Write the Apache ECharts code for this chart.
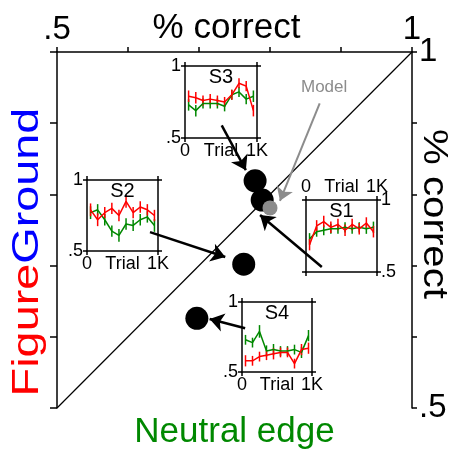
<!DOCTYPE html>
<html><head><meta charset="utf-8">
<script src="https://cdn.jsdelivr.net/npm/echarts@6/dist/echarts.min.js"></script>
<style>html,body{margin:0;padding:0;background:#fff}#c{width:450px;height:449px}</style>
</head><body><div id="c"></div>
<script>
// ---- data ----
const mainTicks = [0.5, 0.6, 0.7, 0.8, 0.9, 1.0];
const subjects = ['S1', 'S2', 'S3', 'S4'];
const neutralEdge = [0.789, 0.763, 0.779, 0.697];     // x
const figureGround = [0.792, 0.702, 0.819, 0.626];    // y
const modelPoint = [0.800, 0.781];
const arrowStart = [[0.873, 0.698], [0.631, 0.747], [0.732, 0.897], [0.765, 0.612]];
const arrowEnd   = [[0.786, 0.771], [0.737, 0.712], [0.766, 0.834], [0.715, 0.625]];
const modelArrowStart = [0.870, 0.928];
const modelArrowEnd = [0.814, 0.791];

const trials = [50, 150, 250, 350, 450, 550, 650, 750, 850, 950];
const s1Fg = [0.69, 0.82, 0.85, 0.81, 0.83, 0.79, 0.83, 0.80, 0.84, 0.78];
const s1Ne = [0.73, 0.78, 0.79, 0.80, 0.80, 0.81, 0.80, 0.81, 0.80, 0.81];
const s2Fg = [0.79, 0.72, 0.77, 0.80, 0.75, 0.85, 0.77, 0.81, 0.79, 0.75];
const s2Ne = [0.77, 0.79, 0.72, 0.64, 0.61, 0.69, 0.68, 0.72, 0.74, 0.68];
const s3Fg = [0.79, 0.78, 0.76, 0.77, 0.76, 0.75, 0.80, 0.88, 0.86, 0.69];
const s3Ne = [0.73, 0.69, 0.74, 0.74, 0.74, 0.72, 0.80, 0.82, 0.77, 0.79];
const s4Fg = [0.58, 0.58, 0.61, 0.62, 0.63, 0.64, 0.64, 0.56, 0.66, 0.67];
const s4Ne = [0.73, 0.71, 0.79, 0.65, 0.66, 0.65, 0.65, 0.66, 0.64, 0.76];
const s1FgErr = [0.04, 0.04, 0.04, 0.04, 0.04, 0.04, 0.04, 0.04, 0.04, 0.04];
const s1NeErr = [0.04, 0.035, 0.035, 0.035, 0.035, 0.035, 0.035, 0.035, 0.035, 0.04];
const s2FgErr = [0.045, 0.045, 0.04, 0.04, 0.04, 0.045, 0.04, 0.04, 0.04, 0.04];
const s2NeErr = [0.045, 0.04, 0.04, 0.04, 0.045, 0.04, 0.04, 0.04, 0.04, 0.045];
const s3FgErr = [0.04, 0.04, 0.035, 0.035, 0.035, 0.035, 0.035, 0.035, 0.035, 0.04];
const s3NeErr = [0.04, 0.04, 0.035, 0.035, 0.035, 0.035, 0.035, 0.035, 0.035, 0.04];
const s4FgErr = [0.04, 0.035, 0.035, 0.035, 0.04, 0.035, 0.035, 0.035, 0.04, 0.04];
const s4NeErr = [0.035, 0.035, 0.045, 0.04, 0.04, 0.035, 0.035, 0.035, 0.04, 0.04];

const FONT = "'Liberation Sans', Arial, Helvetica, sans-serif";
const RED = '#ff0000', GREEN = '#008800', BLUE = '#0000ff', GREY = '#8c8c8c';

// ---- inset layout ----
const insets = [
  {name: 'S1', fg: s1Fg, ne: s1Ne, fgErr: s1FgErr, neErr: s1NeErr, box: {left: 306, top: 200, width: 71, height: 72}, flip: true},
  {name: 'S2', fg: s2Fg, ne: s2Ne, fgErr: s2FgErr, neErr: s2NeErr, box: {left: 87, top: 180, width: 71, height: 71}, flip: false},
  {name: 'S3', fg: s3Fg, ne: s3Ne, fgErr: s3FgErr, neErr: s3NeErr, box: {left: 185, top: 66, width: 72, height: 72}, flip: false},
  {name: 'S4', fg: s4Fg, ne: s4Ne, fgErr: s4FgErr, neErr: s4NeErr, box: {left: 242, top: 302, width: 70, height: 70}, flip: false}
];

const G0 = {left: 57, top: 52, width: 355, height: 356, outerBoundsMode: 'none', containLabel: false};
const grids = [G0];
const fmtMain = v => (Math.abs(v - 0.5) < 1e-6 ? '.5' : (Math.abs(v - 1) < 1e-6 ? '1' : ''));
const xAxes = [
  {gridIndex: 0, type: 'value', position: 'bottom', min: 0.5, max: 1, interval: 0.1,
   axisLine: {show: false}, axisTick: {show: false}, axisLabel: {show: false}, splitLine: {show: false},
   name: 'Neutral edge', nameLocation: 'middle', nameGap: 7, nameMoveOverlap: false,
   nameTextStyle: {color: GREEN, fontSize: 35, fontFamily: FONT, verticalAlign: 'top'}},
  {gridIndex: 0, type: 'value', position: 'top', min: 0.5, max: 1, interval: 0.1,
   axisLine: {show: true, onZero: false, lineStyle: {color: '#000', width: 1.5}},
   axisTick: {show: true, inside: false, length: 5, lineStyle: {color: '#000', width: 1.5}},
   axisLabel: {show: true, margin: 6, color: '#000', fontSize: 33, fontFamily: FONT, formatter: fmtMain},
   splitLine: {show: false},
   name: '% correct', nameLocation: 'middle', nameGap: 6, nameMoveOverlap: false,
   nameTextStyle: {color: '#000', fontSize: 35, fontFamily: FONT, verticalAlign: 'bottom', padding: [0, 16, 0, 0]}}
];
const yAxes = [
  {gridIndex: 0, type: 'value', position: 'left', min: 0.5, max: 1, interval: 0.1,
   axisLine: {show: true, onZero: false, lineStyle: {color: '#000', width: 1.5}},
   axisTick: {show: true, inside: false, length: 7, lineStyle: {color: '#000', width: 1.5}},
   axisLabel: {show: false}, splitLine: {show: false}},
  {gridIndex: 0, type: 'value', position: 'right', min: 0.5, max: 1, interval: 0.1,
   axisLine: {show: true, onZero: false, lineStyle: {color: '#000', width: 1.5}},
   axisTick: {show: true, inside: false, length: 5, lineStyle: {color: '#000', width: 1.5}},
   axisLabel: {show: true, margin: 7, color: '#000', fontSize: 33, fontFamily: FONT, formatter: fmtMain},
   splitLine: {show: false}}
];

const series = [
  {type: 'line', xAxisIndex: 1, yAxisIndex: 1, data: [[0.5, 0.5], [1, 1]], symbol: 'none',
   lineStyle: {color: '#000', width: 1.2}, silent: true, z: 1},
  {type: 'scatter', xAxisIndex: 1, yAxisIndex: 1, symbolSize: 23,
   itemStyle: {color: '#000', opacity: 1}, data: subjects.map((s, i) => ({name: s, value: [neutralEdge[i], figureGround[i]]})), z: 5},
  {type: 'scatter', xAxisIndex: 1, yAxisIndex: 1, symbolSize: 15,
   itemStyle: {color: GREY, opacity: 1}, data: [{name: 'Model', value: modelPoint}], z: 6},
  {type: 'lines', coordinateSystem: 'cartesian2d', xAxisIndex: 1, yAxisIndex: 1,
   symbol: ['none', 'arrow'], symbolSize: [0, 14],
   lineStyle: {color: '#000', width: 2.5, opacity: 1, curveness: 0},
   data: arrowStart.map((s, i) => ({coords: [s, arrowEnd[i]]})), z: 8, silent: true},
  {type: 'lines', coordinateSystem: 'cartesian2d', xAxisIndex: 1, yAxisIndex: 1,
   symbol: ['none', 'arrow'], symbolSize: [0, 13],
   lineStyle: {color: GREY, width: 2, opacity: 1, curveness: 0},
   data: [{coords: [modelArrowStart, modelArrowEnd]}], z: 8, silent: true}
];

const titles = [];
const fmtY = v => (Math.abs(v - 1) < 1e-6 ? '1' : '.5');
const fmtX = v => (v === 0 ? '0' : '1K');

function errSeries(xi, yi, vals, errs, color) {
  return {
    type: 'custom', xAxisIndex: xi, yAxisIndex: yi, silent: true, z: 3,
    data: trials.map((t, i) => [t, vals[i] - errs[i], vals[i] + errs[i]]),
    encode: {x: 0, y: [1, 2]},
    renderItem: (params, api) => {
      const a = api.coord([api.value(0), api.value(1)]);
      const b = api.coord([api.value(0), api.value(2)]);
      return {type: 'line', shape: {x1: a[0], y1: a[1], x2: b[0], y2: b[1]},
              style: {stroke: color, lineWidth: 1.5}};
    }
  };
}

insets.forEach((ins, k) => {
  const gi = k + 1;
  grids.push(Object.assign({outerBoundsMode: 'none', containLabel: false}, ins.box));
  const lineSt = {show: true, onZero: false, lineStyle: {color: '#000', width: 1.5}};
  const tickSt = {show: true, inside: false, length: 4, lineStyle: {color: '#000', width: 1.5}};
  const labX = {show: true, margin: 4, color: '#000', fontSize: 18, fontFamily: FONT, formatter: fmtX};
  const labY = {show: true, margin: 4, color: '#000', fontSize: 18, fontFamily: FONT, formatter: fmtY};
  const mkName = va => ({name: 'Trial', nameLocation: 'middle', nameGap: 4, nameMoveOverlap: false,
    nameTextStyle: {color: '#000', fontSize: 18, fontFamily: FONT, verticalAlign: va}});
  const xb = Object.assign({gridIndex: gi, type: 'value', position: 'bottom', min: 0, max: 1000, interval: 1000,
    axisLine: lineSt, axisTick: tickSt, splitLine: {show: false},
    axisLabel: ins.flip ? {show: false} : labX}, ins.flip ? {} : mkName('top'));
  const xt = Object.assign({gridIndex: gi, type: 'value', position: 'top', min: 0, max: 1000, interval: 1000,
    axisLine: lineSt, axisTick: tickSt, splitLine: {show: false},
    axisLabel: ins.flip ? labX : {show: false}}, ins.flip ? mkName('bottom') : {});
  xAxes.push(xb, xt);
  yAxes.push(
    {gridIndex: gi, type: 'value', position: 'left', min: 0.5, max: 1, interval: 0.5,
     axisLine: lineSt, axisTick: tickSt, splitLine: {show: false},
     axisLabel: ins.flip ? {show: false} : labY},
    {gridIndex: gi, type: 'value', position: 'right', min: 0.5, max: 1, interval: 0.5,
     axisLine: lineSt, axisTick: tickSt, splitLine: {show: false},
     axisLabel: ins.flip ? labY : {show: false}}
  );
  const xi = 2 + 2 * k, yi = 2 + 2 * k;
  series.push(
    errSeries(xi, yi, ins.ne, ins.neErr, GREEN),
    {type: 'line', xAxisIndex: xi, yAxisIndex: yi, symbol: 'none', silent: true, z: 3,
     lineStyle: {color: GREEN, width: 1.5}, data: trials.map((t, i) => [t, ins.ne[i]])},
    errSeries(xi, yi, ins.fg, ins.fgErr, RED),
    {type: 'line', xAxisIndex: xi, yAxisIndex: yi, symbol: 'none', silent: true, z: 4,
     lineStyle: {color: RED, width: 1.5}, data: trials.map((t, i) => [t, ins.fg[i]])}
  );
  titles.push({text: ins.name, left: ins.box.left + ins.box.width / 2, top: ins.box.top + 1,
    textAlign: 'center', padding: 0,
    textStyle: {color: '#000', fontSize: 20, fontWeight: 'normal', fontFamily: FONT}});
});

const chart = echarts.init(document.getElementById('c'), null, {renderer: 'canvas'});
chart.setOption({
  animation: false,
  backgroundColor: '#fff',
  title: titles,
  grid: grids,
  xAxis: xAxes,
  yAxis: yAxes,
  series: series,
  graphic: [
    {type: 'text', x: 301, y: 79, silent: true,
     style: {text: 'Model', fill: GREY, fontSize: 17, fontFamily: FONT}},
    {type: 'text', x: 28, y: 252, rotation: Math.PI / 2, scaleX: 1.3, silent: true,
     style: {text: '{f|Figure}{g|Ground}', align: 'center', verticalAlign: 'middle',
       rich: {f: {fill: RED, fontSize: 36, fontFamily: FONT}, g: {fill: BLUE, fontSize: 36, fontFamily: FONT}}}},
    {type: 'text', x: 434, y: 214, rotation: -Math.PI / 2, scaleX: 1.15, silent: true,
     style: {text: '% correct', align: 'center', verticalAlign: 'middle', fill: '#000', fontSize: 35, fontFamily: FONT}}
  ]
});
</script></body></html>
